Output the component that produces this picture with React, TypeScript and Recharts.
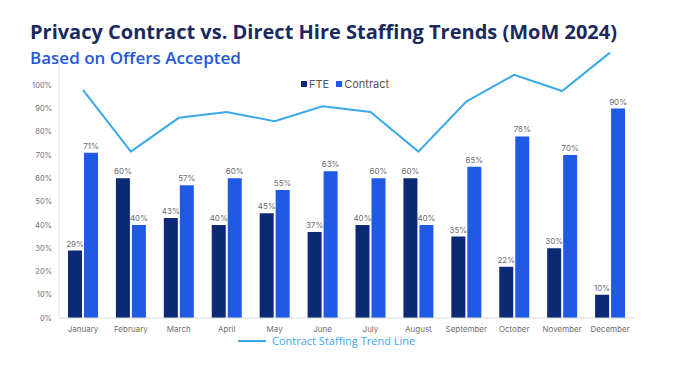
import { ComposedChart, Bar, Line, XAxis, YAxis, LabelList } from 'recharts'

const months = ['January', 'February', 'March', 'April', 'May', 'June', 'July', 'August', 'September', 'October', 'November', 'December']
const fte = [29, 60, 43, 40, 45, 37, 40, 60, 35, 22, 30, 10]
const contract = [71, 40, 57, 60, 55, 63, 60, 40, 65, 78, 70, 90]
const trend = [98, 71.5, 86, 88.5, 84.5, 91, 88.5, 71.5, 93, 104.5, 97.5, 114]
const yTicks = [0, 10, 20, 30, 40, 50, 60, 70, 80, 90, 100]

const FTE_COLOR = '#0c2a74'
const CONTRACT_COLOR = '#1f59e4'
const TREND_COLOR = '#3aa9e8'
const AXIS_FONT = 'Inter, "DejaVu Sans", sans-serif'

const data = months.map((m, i) => ({ month: m, fte: fte[i], contract: contract[i], trend: trend[i] }))

export default function App() {
  return (
    <div style={{ position: 'absolute', left: 0, top: 0, width: 682, height: 383, background: '#fff', fontFamily: '"Open Sans", sans-serif' }}>
      <div style={{ position: 'absolute', left: 30, top: 21, fontSize: 20, fontWeight: 700, color: '#1a2a5e', lineHeight: '22px', whiteSpace: 'nowrap' }}>
        Privacy Contract vs. Direct Hire Staffing Trends (MoM 2024)
      </div>
      <div style={{ position: 'absolute', left: 30, top: 48, fontSize: 17, fontWeight: 600, color: '#2458d8', lineHeight: '20px', whiteSpace: 'nowrap' }}>
        Based on Offers Accepted
      </div>

      <ComposedChart
        width={682}
        height={383}
        data={data}
        margin={{ top: 48, right: 48, left: 29, bottom: 45 }}
        barGap={2}
        style={{ position: 'absolute', left: 0, top: 0 }}
      >
        <XAxis
          dataKey="month"
          height={20}
          tickLine={false}
          tickSize={0}
          tickMargin={8}
          axisLine={{ stroke: '#d9d9d9' }}
          tick={{ fontSize: 8, fill: '#707070', fontFamily: AXIS_FONT }}
          interval={0}
        />
        <YAxis
          width={30}
          domain={[0, 116]}
          ticks={yTicks}
          allowDataOverflow
          tickLine={false}
          tickSize={0}
          tickMargin={7}
          axisLine={{ stroke: '#e3e3e3' }}
          tick={{ fontSize: 7.5, fill: '#707070', fontFamily: AXIS_FONT }}
          tickFormatter={(v: number) => `${v}%`}
        />
        <Bar dataKey="fte" fill={FTE_COLOR} barSize={14} isAnimationActive={false}>
          <LabelList dataKey="fte" position="top" offset={4} formatter={(v: number) => `${v}%`} style={{ fontSize: 8, fill: '#6b6b6b', fontFamily: AXIS_FONT }} />
        </Bar>
        <Bar dataKey="contract" fill={CONTRACT_COLOR} barSize={14} isAnimationActive={false}>
          <LabelList dataKey="contract" position="top" offset={4} formatter={(v: number) => `${v}%`} style={{ fontSize: 8, fill: '#6b6b6b', fontFamily: AXIS_FONT }} />
        </Bar>
        <Line dataKey="trend" stroke={TREND_COLOR} strokeWidth={2} dot={false} activeDot={false} isAnimationActive={false} />
      </ComposedChart>

      <div style={{ position: 'absolute', left: 301, top: 77, display: 'flex', alignItems: 'center', fontSize: 11, color: '#555', fontFamily: AXIS_FONT, whiteSpace: 'nowrap' }}>
        <span style={{ width: 6, height: 6, background: FTE_COLOR, marginRight: 2, display: 'inline-block' }} />
        <span style={{ marginRight: 7 }}>FTE</span>
        <span style={{ width: 6, height: 6, background: CONTRACT_COLOR, marginRight: 2, display: 'inline-block' }} />
        <span>Contract</span>
      </div>

      <div style={{ position: 'absolute', left: 238, top: 333, display: 'flex', alignItems: 'center', fontSize: 11, color: TREND_COLOR, whiteSpace: 'nowrap' }}>
        <span style={{ width: 28, height: 2, background: TREND_COLOR, marginRight: 6, display: 'inline-block' }} />
        <span>Contract Staffing Trend Line</span>
      </div>
    </div>
  )
}
